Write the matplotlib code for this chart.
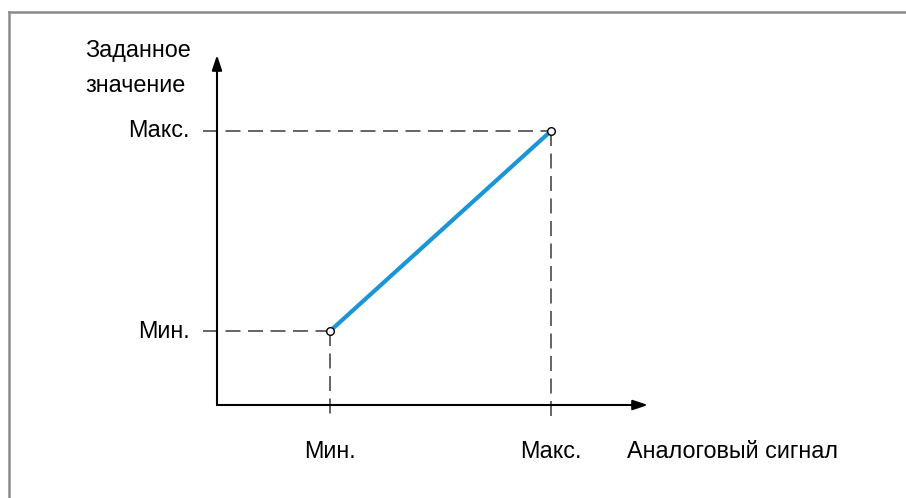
import matplotlib.pyplot as plt
from matplotlib.lines import Line2D

plt.rcParams['font.family'] = ['Liberation Sans', 'DejaVu Sans']

# Данные
signal = [2.62, 7.75]          # аналоговый сигнал: Мин., Макс.
setpoint = [2.11, 7.83]        # заданное значение: Мин., Макс.
x_ticklabels = ['Мин.', 'Макс.']
y_ticklabels = ['Мин.', 'Макс.']
x_label = 'Аналоговый сигнал'
y_label_lines = ['Заданное', 'значение']

fig = plt.figure(figsize=(9.06, 4.98), dpi=100)

# Рамка (левая и верхняя линии)
fig.add_artist(Line2D([9 / 906, 9 / 906], [0, 1 - 12 / 498], color='#8a8a8a', lw=1.8))
fig.add_artist(Line2D([9 / 906, 905 / 906], [1 - 12 / 498, 1 - 12 / 498], color='#8a8a8a', lw=1.8))

ax = fig.add_axes([217 / 906, 93 / 498, 431 / 906, 350 / 498])
ax.set_xlim(0, 10)
ax.set_ylim(0, 10)
ax.axis('off')

# Оси со стрелками
arrow = dict(arrowstyle='-|>,head_length=0.9,head_width=0.3', color='black', lw=1.5,
             shrinkA=0, shrinkB=0)
ax.annotate('', xy=(10, 0), xytext=(0, 0), arrowprops=arrow, annotation_clip=False)
ax.annotate('', xy=(0, 10), xytext=(0, 0), arrowprops=arrow, annotation_clip=False)

# Пунктирные вспомогательные линии
dash = dict(color='#4a4a4a', lw=1.2, dashes=(9, 4.5), clip_on=False, zorder=1)
for xv, yv in zip(signal, setpoint):
    ax.plot([-0.33, xv], [yv, yv], **dash)
    ax.plot([xv, xv], [yv, -0.37], **dash)

# Характеристика
ax.plot(signal, setpoint, color='#1a96d8', lw=3.0, zorder=3, solid_capstyle='butt')
ax.plot(signal, setpoint, 'o', ms=5.5, mfc='white', mec='black', mew=1.0, zorder=4, clip_on=False)

fs = 16.8
for xv, lab in zip(signal, x_ticklabels):
    ax.text(xv, -1.34, lab, ha='center', va='center', fontsize=fs)
for yv, lab in zip(setpoint, y_ticklabels):
    ax.text(-0.63, yv, lab, ha='right', va='center', fontsize=fs)
ax.text(9.51, -1.34, x_label, ha='left', va='center', fontsize=fs)
for yv, lab in zip([10.12, 9.12], y_label_lines):
    ax.text(-3.06, yv, lab, ha='left', va='center', fontsize=fs)

fig.savefig('out.png', dpi=100)
